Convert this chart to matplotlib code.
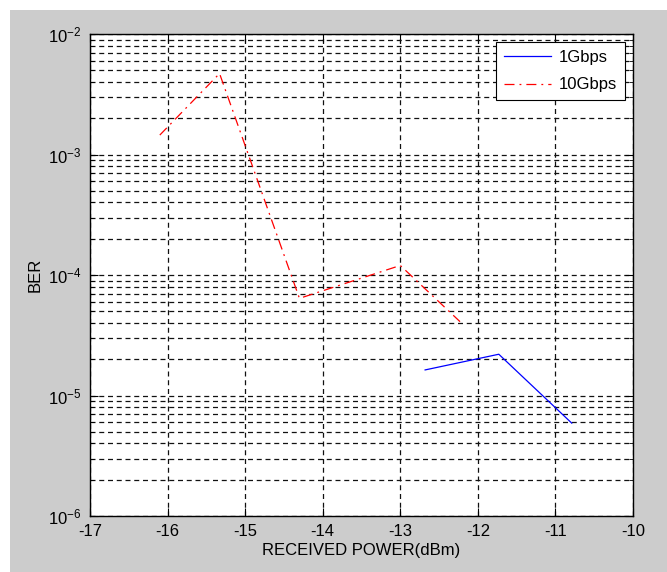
import numpy as np
import matplotlib.pyplot as plt
from matplotlib.patches import Rectangle
from matplotlib.ticker import LogLocator, NullFormatter

plt.rcParams['font.family'] = ['Liberation Sans', 'DejaVu Sans']
plt.rcParams['mathtext.fontset'] = 'custom'
plt.rcParams['mathtext.rm'] = 'Liberation Sans'
plt.rcParams['axes.unicode_minus'] = False

# data
power_1g = [-12.68, -11.73, -10.79]
ber_1g = [1.63e-5, 2.2e-5, 5.9e-6]

power_10g = [-16.1, -15.33, -14.3, -13.0, -12.23]
ber_10g = [1.45e-3, 4.7e-3, 6.4e-5, 1.2e-4, 4.1e-5]

fig = plt.figure(figsize=(6.67, 5.72), dpi=100, facecolor='white')
fig.patches.append(Rectangle((10/667, 0), 1, 562/572, transform=fig.transFigure,
                             facecolor='#cccccc', edgecolor='none', zorder=-10))

ax = fig.add_axes([90/667, 56/572, 543/667, 482/572])
ax.set_facecolor('white')

ax.plot(power_1g, ber_1g, color='blue', lw=0.9, label='1Gbps')
ax.plot(power_10g, ber_10g, color='red', lw=0.9, linestyle=(0, (8, 4, 1.5, 4)), label='10Gbps')

ax.set_yscale('log')
ax.set_xlim(-17, -10)
ax.set_ylim(1e-6, 1e-2)
ax.set_xticks(np.arange(-17, -9, 1))
ax.yaxis.set_major_locator(LogLocator(base=10, numticks=10))
ax.yaxis.set_minor_locator(LogLocator(base=10, subs=np.arange(2, 10), numticks=20))
ax.yaxis.set_minor_formatter(NullFormatter())

ax.grid(True, which='major', axis='both', color='#111111', lw=0.9, linestyle=(0, (4, 3)))
ax.grid(True, which='minor', axis='y', color='#111111', lw=0.9, linestyle=(0, (4, 3)))

ax.tick_params(which='both', direction='in', top=True, right=True, labelsize=12, pad=6)
ax.tick_params(which='major', length=6, width=0.8)
ax.tick_params(which='minor', length=3, width=0.6)
for s in ax.spines.values():
    s.set_linewidth(1.0)
    s.set_color('black')

ax.set_xlabel('RECEIVED POWER(dBm)', fontsize=12, labelpad=3)
ax.set_ylabel('BER', fontsize=12, labelpad=4)

leg = ax.legend(loc='upper right', fontsize=12, fancybox=False, framealpha=1,
                edgecolor='black', handlelength=2.8, handletextpad=0.5,
                labelspacing=0.75, borderpad=0.45, borderaxespad=0.5)
leg.get_frame().set_linewidth(0.8)

fig.savefig('out.png', dpi=100, facecolor=fig.get_facecolor())
